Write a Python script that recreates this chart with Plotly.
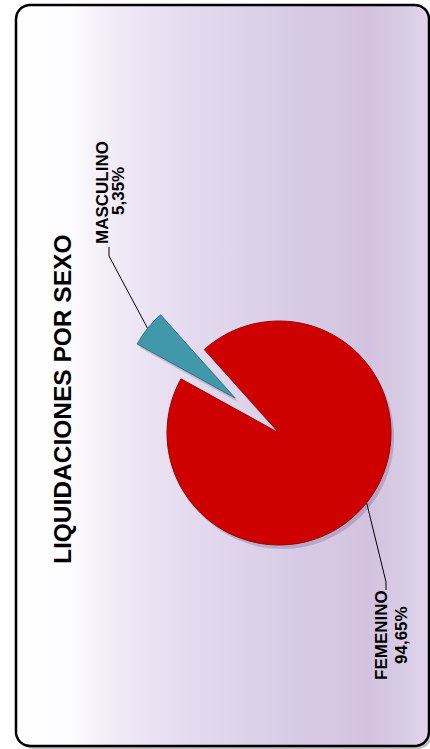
import math
import plotly.graph_objects as go

# ---------------- data ----------------
categories = ["MASCULINO", "FEMENINO"]
values = [5.35, 94.65]
value_labels = ["5,35%", "94,65%"]
title_text = "LIQUIDACIONES POR SEXO"

# ---------------- layout constants ----------------
W, H = 430, 749
slice_colors = ["#4298ab", "#cf0000"]
slice_lines = ["#2f7585", "#9c0000"]
FONT = "Liberation Sans, Arial, sans-serif"

CX, CY, R = 279, 433, 112      # pie centre / radius (px)
PULL_PX = 56                   # explode distance of the small slice
ROT = -61.1                    # clockwise start angle of first slice

total = sum(values)
spans = [v / total * 360 for v in values]
mids = []
acc = ROT
for s in spans:
    mids.append(90 - (acc + s / 2))   # math angle of slice middle
    acc += s


def dirv(a):
    return math.cos(math.radians(a)), -math.sin(math.radians(a))


def dom(cx, cy, r):
    return dict(x=[(cx - r) / W, (cx + r) / W], y=[1 - (cy + r) / H, 1 - (cy - r) / H])


def rrect(x0, y0, x1, y1, rad, n=10):
    pts = []
    corners = [(x1 - rad, y0 + rad, -90, 0), (x1 - rad, y1 - rad, 0, 90),
               (x0 + rad, y1 - rad, 90, 180), (x0 + rad, y0 + rad, 180, 270)]
    for cx, cy, a0, a1 in corners:
        for k in range(n + 1):
            a = math.radians(a0 + (a1 - a0) * k / n)
            pts.append((cx + rad * math.cos(a), cy + rad * math.sin(a)))
    pts.append(pts[0])
    return [p[0] for p in pts], [p[1] for p in pts]


fig = go.Figure()

# frame shadow
sx, sy = rrect(19, 8, 432, 749, 14)
fig.add_trace(go.Scatter(x=sx, y=sy, mode="lines", fill="toself",
                         fillcolor="rgba(0,0,0,0.25)", line=dict(width=0),
                         hoverinfo="skip", showlegend=False))
# frame with gradient
fx, fy = rrect(16, 5, 429, 746, 14)
fig.add_trace(go.Scatter(
    x=fx, y=fy, mode="lines", fill="toself",
    fillgradient=dict(type="horizontal", colorscale=[
        [0.0, "#ffffff"], [0.14, "#fcfbfe"], [0.2, "#f4eff9"], [0.32, "#ebe3f3"],
        [0.45, "#e3d9ee"], [0.6, "#dcd0e9"], [0.7, "#d7c9e4"], [0.86, "#d3c3e0"],
        [0.93, "#d8cbe4"], [1.0, "#e0d6ec"]]),
    line=dict(color="black", width=2.5), hoverinfo="skip", showlegend=False))

# leader lines (start at the outer middle of each slice)
tdx, tdy = dirv(mids[0])
TX, TY = CX + PULL_PX * tdx, CY + PULL_PX * tdy
rdx, rdy = dirv(mids[1])
starts = [(TX + R * tdx, TY + R * tdy), (CX + R * rdx, CY + R * rdy)]
elbows = [[(109, 256), (109, 247)], [(386, 582), (386, 590)]]
for (x0, y0), el in zip(starts, elbows):
    fig.add_trace(go.Scatter(x=[x0] + [p[0] for p in el], y=[y0] + [p[1] for p in el],
                             mode="lines", line=dict(color="black", width=1),
                             hoverinfo="skip", showlegend=False))

SH = (3, 4)
shadow = "rgba(70,50,90,0.22)"
# soft shadows of the slices
fig.add_trace(go.Pie(
    labels=categories, values=values, sort=False, direction="clockwise", rotation=ROT,
    marker=dict(colors=["rgba(0,0,0,0)", shadow], line=dict(width=0)),
    textinfo="none", hoverinfo="skip", domain=dom(CX + SH[0], CY + SH[1], R), showlegend=False))
fig.add_trace(go.Pie(
    labels=categories, values=values, sort=False, direction="clockwise", rotation=ROT,
    marker=dict(colors=[shadow, "rgba(0,0,0,0)"], line=dict(width=0)),
    textinfo="none", hoverinfo="skip", domain=dom(TX + SH[0], TY + SH[1], R), showlegend=False))

# big slice in place
fig.add_trace(go.Pie(
    labels=categories, values=values, sort=False, direction="clockwise", rotation=ROT,
    marker=dict(colors=["rgba(0,0,0,0)", slice_colors[1]],
                line=dict(color=["rgba(0,0,0,0)", slice_lines[1]], width=[0, 1])),
    textinfo="none", hoverinfo="label+percent", domain=dom(CX, CY, R), showlegend=False))
# exploded small slice
fig.add_trace(go.Pie(
    labels=categories, values=values, sort=False, direction="clockwise", rotation=ROT,
    marker=dict(colors=[slice_colors[0], "rgba(0,0,0,0)"],
                line=dict(color=[slice_lines[0], "rgba(0,0,0,0)"], width=[1, 0])),
    textinfo="none", hoverinfo="label+percent", domain=dom(TX, TY, R), showlegend=False))

# labels (rotated)
label_pos = [((102, 193), (118, 191)), ((381, 635), (401, 635))]
annotations = [dict(x=62, y=400, xref="x", yref="y", text="<b>%s</b>" % title_text,
                    textangle=-90, showarrow=False,
                    font=dict(family=FONT, size=24.5, color="black"))]
for cat, vl, (p1, p2) in zip(categories, value_labels, label_pos):
    annotations.append(dict(x=p1[0], y=p1[1], xref="x", yref="y", text="<b>%s</b>" % cat,
                            textangle=-90, showarrow=False,
                            font=dict(family=FONT, size=17, color="black")))
    annotations.append(dict(x=p2[0], y=p2[1], xref="x", yref="y", text="<b>%s</b>" % vl,
                            textangle=-90, showarrow=False,
                            font=dict(family=FONT, size=17, color="black")))

fig.update_layout(
    width=W, height=H, margin=dict(l=0, r=0, t=0, b=0),
    paper_bgcolor="white", plot_bgcolor="rgba(0,0,0,0)",
    xaxis=dict(range=[0, W], visible=False, fixedrange=True),
    yaxis=dict(range=[H, 0], visible=False, fixedrange=True),
    annotations=annotations, showlegend=False,
)

fig.write_html("out.html", config={"displayModeBar": False},
               post_script="document.body.style.margin='0';document.body.style.overflow='hidden';")
